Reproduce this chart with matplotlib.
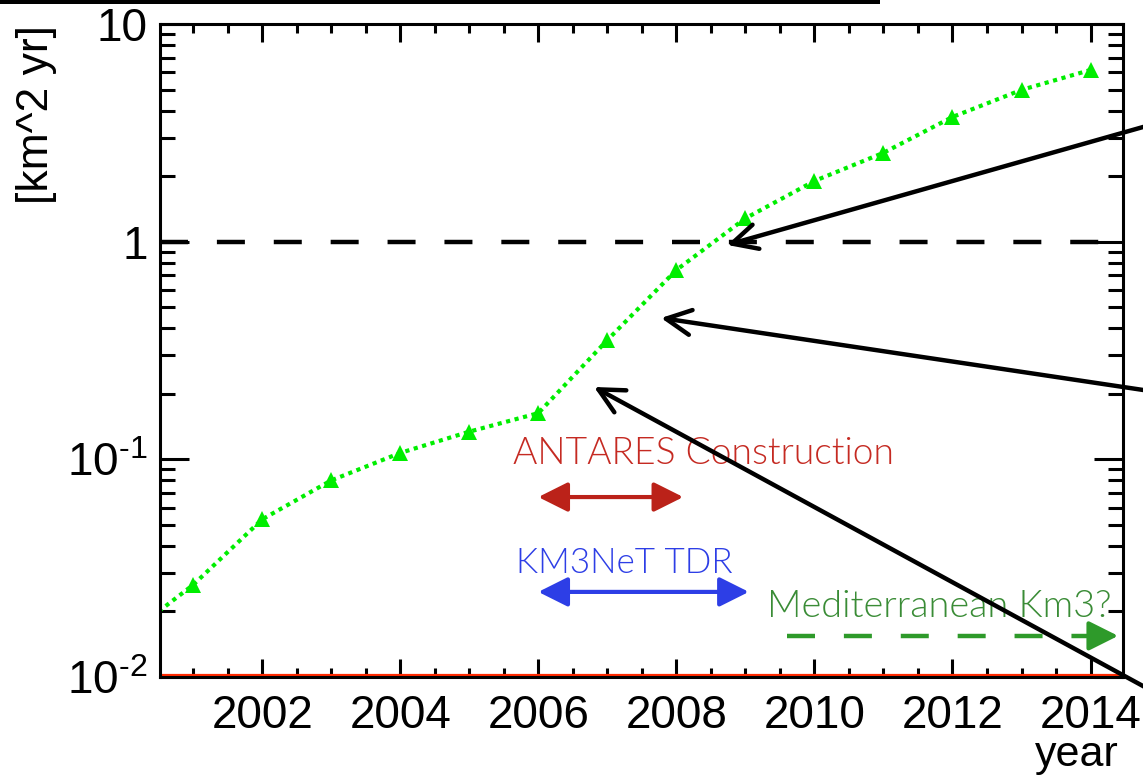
import numpy as np
import matplotlib
matplotlib.use("Agg")
import matplotlib.pyplot as plt
from matplotlib.patches import Rectangle
from matplotlib.ticker import FixedLocator, FixedFormatter, MultipleLocator, NullFormatter

plt.rcParams['font.family'] = ['Liberation Sans', 'DejaVu Sans']
plt.rcParams['mathtext.fontset'] = 'custom'
plt.rcParams['mathtext.rm'] = 'Liberation Sans'
plt.rcParams['mathtext.it'] = 'Liberation Sans'

# ---- data ----
years = [2000, 2001, 2002, 2003, 2004, 2005, 2006, 2007, 2008, 2009, 2010, 2011, 2012, 2013, 2014]
exposure = [0.0151, 0.0265, 0.053, 0.080, 0.107, 0.134, 0.163, 0.353, 0.741, 1.28, 1.90, 2.56, 3.74, 4.98, 6.15]
marker_years = years[1:]
marker_exposure = exposure[1:]

ytick_vals = [0.01, 0.1, 1, 10]
ytick_labels = ['$\\mathregular{10^{\u2010' + '2}}$', '$\\mathregular{10^{\u2010' + '1}}$', '1', '10']
xtick_vals = [2002, 2004, 2006, 2008, 2010, 2012, 2014]
xtick_labels = ['2002', '2004', '2006', '2008', '2010', '2012', '2014']

antares_span = (2006, 2008.1)
km3net_span = (2006, 2009.05)
med_span = (2009.6, 2014.4)

W, H = 1143, 779
fig = plt.figure(figsize=(W / 100, H / 100), dpi=100)
ax = fig.add_axes([160 / W, 1 - 677 / H, (1123 - 160) / W, (677 - 24) / H])
ax.set_yscale('log')
ax.set_xlim(2000.52, 2014.47)
ax.set_ylim(0.01, 10)

# reference line at 1
ax.plot([2000.52, 2014.47], [1, 1], color='black', lw=3.2, dashes=(6.3, 6.5), dash_capstyle='butt', zorder=2)
# red baseline
ax.axhline(0.0102, color='#ff2a00', lw=1.6, zorder=2.4)

# data
ax.plot(years, exposure, color='#00ee00', lw=3.0, linestyle=(0, (1, 1.1)), zorder=3)
ax.plot(marker_years, marker_exposure, linestyle='none', marker='^', markersize=12,
        color='#00ee00', markeredgewidth=0, zorder=4)

# axes styling
for sp in ax.spines.values():
    sp.set_linewidth(2.2)
    sp.set_zorder(5)
ax.xaxis.set_major_locator(FixedLocator(xtick_vals))
ax.xaxis.set_major_formatter(FixedFormatter(xtick_labels))
ax.xaxis.set_minor_locator(MultipleLocator(0.5))
ax.yaxis.set_major_locator(FixedLocator(ytick_vals))
ax.yaxis.set_major_formatter(FixedFormatter(ytick_labels))
ax.yaxis.set_minor_formatter(NullFormatter())
ax.tick_params(which='both', direction='in', top=True, right=True, width=2.2, labelsize=33)
ax.tick_params(axis='x', which='major', length=13, pad=12)
ax.tick_params(axis='x', which='minor', length=6.5)
ax.tick_params(axis='y', which='major', length=21, pad=9)
ax.tick_params(axis='y', which='minor', length=11)

# axis titles
fig.text(37 / W, 1 - 25 / H, '[km^2 yr]', rotation=90, ha='center', va='top', fontsize=32)
fig.text(1119 / W, 1 - 766 / H, 'year', ha='right', va='baseline', fontsize=31)

# annotations
lightfont = dict(family=['Lato', 'Liberation Sans'], weight=300)
ax.text(2005.64, 0.0953, 'ANTARES Construction', color='#c52a22', fontsize=26.8, va='baseline', ha='left', **lightfont)
ax.annotate('', xy=(antares_span[1], 0.0671), xytext=(antares_span[0], 0.0671),
            arrowprops=dict(arrowstyle='<|-|>,head_length=0.9,head_width=0.45', color='#bb2219',
                            lw=3, shrinkA=0, shrinkB=0, mutation_scale=20))
ax.text(2005.68, 0.0301, 'KM3NeT TDR', color='#2d3ee6', fontsize=25.2, va='baseline', ha='left', **lightfont)
ax.annotate('', xy=(km3net_span[1], 0.0246), xytext=(km3net_span[0], 0.0246),
            arrowprops=dict(arrowstyle='<|-|>,head_length=0.9,head_width=0.45', color='#2d3ee6',
                            lw=3, shrinkA=0, shrinkB=0, mutation_scale=20))
ax.text(2009.32, 0.01888, 'Mediterranean Km3?', color='#3a8c36', fontsize=27.3, va='baseline', ha='left', **lightfont)
ax.plot([med_span[0], med_span[1] - 0.25], [0.01545, 0.01545], color='#2e9a2a', lw=3.2,
        dashes=(6.3, 6.5), dash_capstyle='butt', zorder=3)
ax.annotate('', xy=(med_span[1], 0.01545), xytext=(med_span[1] - 0.3, 0.01545),
            arrowprops=dict(arrowstyle='-|>,head_length=0.9,head_width=0.45', color='#2e9a2a',
                            lw=3, shrinkA=0, shrinkB=0, mutation_scale=20))

# black pointer arrows (tips in data coords, tails beyond right figure edge)
tips = [(2008.735, 0.966), (2007.778, 0.446), (2006.807, 0.215)]
tails = [(1160, 656.8), (1160, 386.5), (1160, 83.7)]
for tip, tail in zip(tips, tails):
    ax.annotate('', xy=tip, xycoords='data', xytext=tail, textcoords='figure pixels',
                arrowprops=dict(arrowstyle='->,head_length=0.9,head_width=0.45', color='black',
                                lw=3.2, shrinkA=0, shrinkB=0, mutation_scale=20),
                annotation_clip=False, zorder=6)

# black bar at top
fig.add_artist(Rectangle((0, 1 - 4 / H), 880 / W, 4 / H, transform=fig.transFigure,
                         color='black', lw=0))

fig.savefig('out.png', dpi=100)
